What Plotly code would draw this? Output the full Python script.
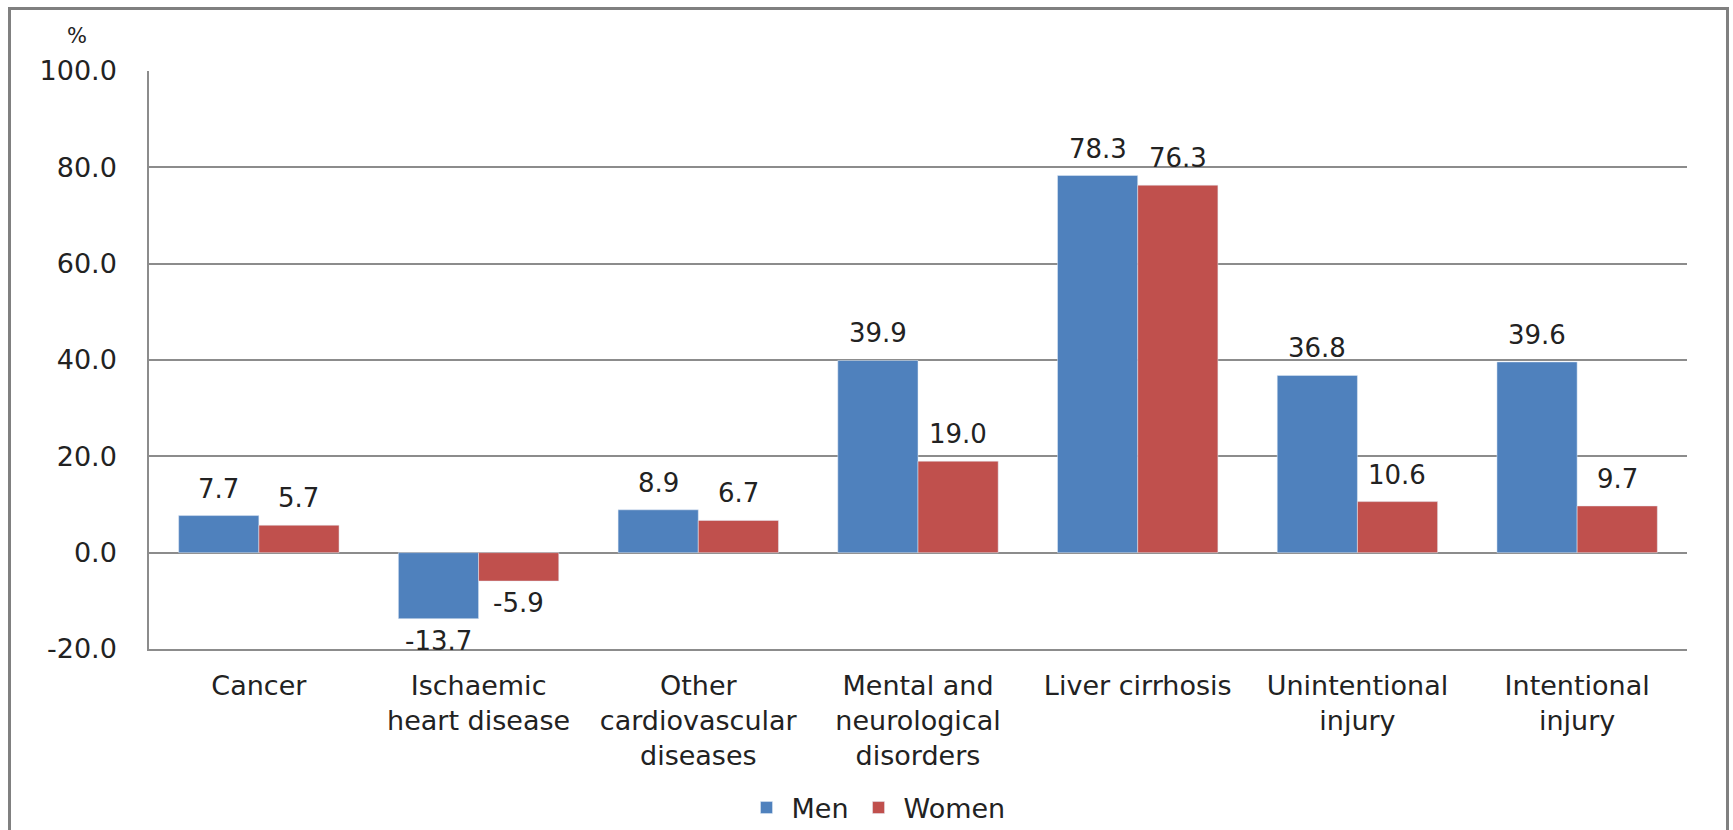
import plotly.graph_objects as go

categories = [
    "Cancer",
    "Ischaemic<br>heart disease",
    "Other<br>cardiovascular<br>diseases",
    "Mental and<br>neurological<br>disorders",
    "Liver cirrhosis",
    "Unintentional<br>injury",
    "Intentional<br>injury",
]
men = [7.7, -13.7, 8.9, 39.9, 78.3, 36.8, 39.6]
women = [5.7, -5.9, 6.7, 19.0, 76.3, 10.6, 9.7]
y_ticks = [-20, 0, 20, 40, 60, 80, 100]

W, H = 1733, 830
L, R, T, B = 149, 46, 71, 181
FONT = "DejaVu Sans"
TXT = "#222222"
BAR_PX = 80  # width of one bar in px; labels sit half a bar left/right of the category centre

fig = go.Figure()
fig.add_trace(go.Bar(name="Men", x=categories, y=men, marker_color="#4F81BD"))
fig.add_trace(go.Bar(name="Women", x=categories, y=women, marker_color="#C0504D"))

pw, ph = W - L - R, H - T - B
def px_x(p):
    return (p - L) / pw
def px_y(p):
    return (H - B - p) / ph

# value labels above positive bars / below negative ones
labels = []
for series, shift in ((men, -BAR_PX / 2), (women, BAR_PX / 2)):
    for cat, v in zip(categories, series):
        labels.append(dict(
            x=cat, y=v, xref="x", yref="y", text=f"{v:.1f}", showarrow=False,
            xshift=shift, yshift=10 if v >= 0 else -5,
            xanchor="center", yanchor="bottom" if v >= 0 else "top",
            font=dict(size=26, color=TXT, family=FONT),
        ))

labels.append(dict(text="%", xref="paper", yref="paper", x=px_x(77), y=px_y(36),
                   xanchor="center", yanchor="middle", showarrow=False,
                   font=dict(size=21, color=TXT, family=FONT)))

fig.update_layout(
    width=W, height=H,
    margin=dict(l=L, r=R, t=T, b=B, autoexpand=False),
    paper_bgcolor="white", plot_bgcolor="white",
    barmode="group", bargap=0.27, bargroupgap=0,
    font=dict(family=FONT, size=27, color=TXT),
    showlegend=True,
    legend=dict(orientation="h", x=px_x(876), xanchor="center", y=px_y(808), yanchor="middle",
                font=dict(size=27, family=FONT, color=TXT), traceorder="normal",
                itemwidth=40),
    xaxis=dict(showgrid=False, showline=True, linecolor="#8c8c8c", linewidth=1.5,
               ticks="", tickfont=dict(size=27), ticklabelstandoff=12),
    yaxis=dict(range=[-20, 100], tickvals=y_ticks, ticktext=[f"{v:.1f}" for v in y_ticks],
               showgrid=True, gridcolor="#8c8c8c", gridwidth=1.5,
               zeroline=True, zerolinecolor="#8c8c8c", zerolinewidth=1.5,
               showline=True, linecolor="#8c8c8c", linewidth=1.5,
               ticks="", tickfont=dict(size=27), ticklabelstandoff=25),
    annotations=labels,
    shapes=[dict(type="rect", xref="paper", yref="paper",
                 x0=px_x(9.5), x1=px_x(1727.5), y0=px_y(900), y1=px_y(8.5),
                 line=dict(color="#808080", width=3), layer="below")],
)

fig.write_html("out.html")
